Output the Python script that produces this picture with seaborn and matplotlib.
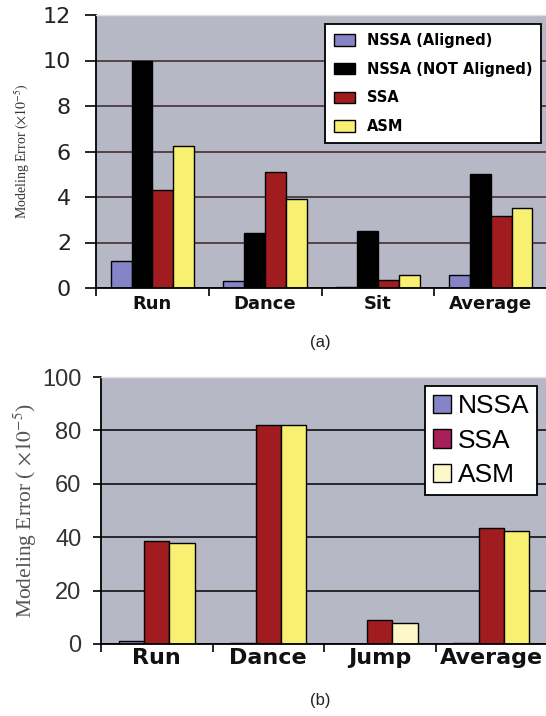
import pandas as pd
import matplotlib.pyplot as plt
import seaborn as sns

# -------------------------
# Data, panel (a)
# -------------------------
acts_a = ["Run", "Dance", "Sit", "Average"]
methods_a = ["NSSA (Aligned)", "NSSA (NOT Aligned)", "SSA", "ASM"]
nssa_aligned = [1.2, 0.3, 0.03, 0.55]
nssa_not_aligned = [10.0, 2.4, 2.5, 5.0]
ssa_a = [4.3, 5.1, 0.35, 3.15]
asm_a = [6.25, 3.9, 0.55, 3.5]
yticks_a = [0, 2, 4, 6, 8, 10, 12]

# -------------------------
# Data, panel (b)
# -------------------------
acts_b = ["Run", "Dance", "Jump", "Average"]
methods_b = ["NSSA", "SSA", "ASM"]
nssa_b = [1.2, 0.3, 0.0, 0.4]
ssa_b = [38.5, 82.0, 9.0, 43.5]
asm_b = [38.0, 82.0, 8.0, 42.5]
yticks_b = [0, 20, 40, 60, 80, 100]

df_a = pd.DataFrame({
    "activity": acts_a * 4,
    "method": [m for m in methods_a for _ in acts_a],
    "error": nssa_aligned + nssa_not_aligned + ssa_a + asm_a,
})
df_b = pd.DataFrame({
    "activity": acts_b * 3,
    "method": [m for m in methods_b for _ in acts_b],
    "error": nssa_b + ssa_b + asm_b,
})

blue = "#8484c6"
red = "#a01c1e"
yellow = "#f8f070"
bg = "#b6b9c5"

plt.rcParams["mathtext.fontset"] = "stix"

fig = plt.figure(figsize=(5.46, 7.16), dpi=100)
ax1 = fig.add_axes([96 / 546, 1 - 288 / 716, 1 - 96 / 546 + 0.002, (288 - 15) / 716])
ax2 = fig.add_axes([101 / 546, 1 - 644 / 716, 1 - 101 / 546 + 0.002, (644 - 377) / 716])


def style_axes(ax, ticks, gridcolor, ylab_x):
    ax.set_facecolor(bg)
    ax.set_axisbelow(True)
    ax.yaxis.grid(True, color=gridcolor, linewidth=1.1)
    ax.xaxis.grid(False)
    ax.set_ylim(ticks[0], ticks[-1])
    ax.set_yticks(ticks)
    ax.set_xlim(-0.5, 3.5)
    ax.set_xticks([-0.5, 0.5, 1.5, 2.5, 3.5], minor=True)
    ax.tick_params(axis="x", which="major", length=0)
    ax.tick_params(axis="x", which="minor", length=6, width=1.2, color="black", direction="out")
    ax.set_xlabel("")
    for s in ["left", "bottom"]:
        ax.spines[s].set_color("black")
        ax.spines[s].set_linewidth(1.3)
    ax.spines["right"].set_visible(False)
    ax.spines["top"].set_color("#e4dede")
    ax.spines["top"].set_linewidth(1.0)
    ax.yaxis.set_label_coords(ylab_x, 0.49)


# -------------------------
# Panel (a)
# -------------------------
sns.barplot(
    data=df_a, x="activity", y="error", hue="method",
    order=acts_a, hue_order=methods_a,
    palette=[blue, "black", red, yellow],
    width=0.74, saturation=1, errorbar=None,
    edgecolor="black", linewidth=1.0, ax=ax1,
)
style_axes(ax1, yticks_a, "#3a2424", -0.142)
ax1.set_ylabel(r"Modeling Error $(\times 10^{-5})$", family="Liberation Serif",
               fontsize=10, color="#333333")
ax1.tick_params(axis="y", length=8, width=1.2, pad=10, labelsize=16, colors="black")
for lab in ax1.get_yticklabels():
    lab.set_family("DejaVu Sans")
    lab.set_color("#222222")
ax1.tick_params(axis="x", which="major", pad=5)
for lab in ax1.get_xticklabels():
    lab.set_family("DejaVu Sans")
    lab.set_fontweight("bold")
    lab.set_fontsize(13)
    lab.set_color("#111111")

h, l = ax1.get_legend_handles_labels()
leg1 = ax1.legend(
    h, l, loc="upper right", bbox_to_anchor=(0.987, 0.967), borderaxespad=0,
    frameon=True, fancybox=False, edgecolor="black", facecolor="white", framealpha=1,
    prop={"family": "DejaVu Sans", "weight": "bold", "size": 10.5},
    handlelength=1.45, handleheight=0.85, labelspacing=0.95, handletextpad=0.8,
    borderpad=0.6,
)
leg1.get_frame().set_linewidth(1.3)

# -------------------------
# Panel (b)
# -------------------------
sns.barplot(
    data=df_b, x="activity", y="error", hue="method",
    order=acts_b, hue_order=methods_b,
    palette=[blue, red, yellow],
    width=0.68, saturation=1, errorbar=None,
    edgecolor="black", linewidth=1.0, ax=ax2,
)
# the Jump ASM bar is drawn in a paler yellow in the original
ax2.containers[2][2].set_facecolor("#fdf6c6")

style_axes(ax2, yticks_b, "black", -0.139)
ax2.set_ylabel(r"Modeling Error ( $\times 10^{-5}$)", family="Liberation Serif",
               fontsize=15.5, color="#555555")
ax2.tick_params(axis="y", length=6, width=1.2, pad=8, labelsize=17)
for lab in ax2.get_yticklabels():
    lab.set_family("Liberation Sans")
    lab.set_color("#333333")
ax2.tick_params(axis="x", which="major", pad=3)
for lab in ax2.get_xticklabels():
    lab.set_family("DejaVu Sans")
    lab.set_fontweight("bold")
    lab.set_fontsize(16)
    lab.set_color("#111111")

h, l = ax2.get_legend_handles_labels()
leg2 = ax2.legend(
    h, l, loc="upper right", bbox_to_anchor=(0.978, 0.966), borderaxespad=0,
    frameon=True, fancybox=False, edgecolor="black", facecolor="white", framealpha=1,
    prop={"family": "Liberation Sans", "size": 19},
    handlelength=0.7, handleheight=0.7, labelspacing=0.4, handletextpad=0.25,
    borderpad=0.3,
)
leg2.get_frame().set_linewidth(1.3)
for patch, col in zip(leg2.get_patches(), [blue, "#a8205a", "#fdf8c8"]):
    patch.set_facecolor(col)
    patch.set_edgecolor("black")

# -------------------------
# Captions
# -------------------------
fig.text(0.586, 1 - 342 / 716, "(a)", ha="center", va="center",
         family="Liberation Sans", fontsize=12, color="#222222")
fig.text(0.586, 1 - 700 / 716, "(b)", ha="center", va="center",
         family="Liberation Sans", fontsize=12, color="#222222")

fig.savefig("out.png", dpi=100)
